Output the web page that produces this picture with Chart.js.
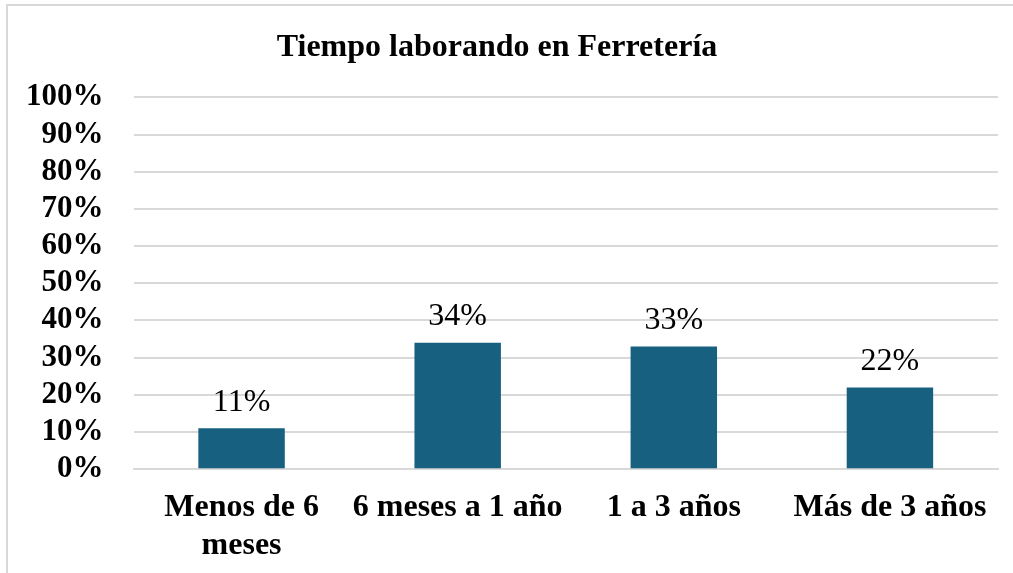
<!DOCTYPE html>
<html>
<head>
<meta charset="utf-8">
<script src="https://cdn.jsdelivr.net/npm/chart.js@4/dist/chart.umd.min.js"></script>
<style>
  body { margin: 0; background: #fff; }
  #wrap { position: relative; width: 1013px; height: 573px; }
  #frame { position: absolute; left: 6px; top: 4px; right: -10px; bottom: -10px; border: 2px solid #d9d9d9; }
  canvas { position: absolute; left: 0; top: 0; }
</style>
</head>
<body>
<div id="wrap">
  <div id="frame"></div>
  <canvas id="chart" width="1013" height="573"></canvas>
</div>
<script>
// datos del grafico
const categorias = [['Menos de 6', 'meses'], '6 meses a 1 año', '1 a 3 años', 'Más de 3 años'];
const porcentajes = [11, 34, 33, 22];
const tituloTexto = 'Tiempo laborando en Ferretería';

const fuente = "'Liberation Serif', 'Times New Roman', serif";

// etiquetas encima de cada barra
const etiquetasBarras = {
  id: 'etiquetasBarras',
  afterDatasetsDraw(chart) {
    const ctx = chart.ctx;
    const meta = chart.getDatasetMeta(0);
    ctx.save();
    ctx.font = '32px ' + fuente;
    ctx.fillStyle = '#000';
    ctx.textAlign = 'center';
    ctx.textBaseline = 'bottom';
    meta.data.forEach((bar, i) => {
      ctx.fillText(porcentajes[i] + '%', bar.x, bar.y - 10);
    });
    ctx.restore();
  }
};

const ctx = document.getElementById('chart').getContext('2d');
new Chart(ctx, {
  type: 'bar',
  data: {
    labels: categorias,
    datasets: [{
      data: porcentajes,
      backgroundColor: '#17607f',
      categoryPercentage: 0.4,
      barPercentage: 1.0
    }]
  },
  options: {
    responsive: false,
    animation: false,
    layout: { padding: { left: -4, right: 15, top: 0, bottom: -11 } },
    plugins: {
      legend: { display: false },
      tooltip: { enabled: false },
      title: {
        display: true,
        text: tituloTexto,
        color: '#000',
        font: { family: fuente, size: 32, weight: 'bold' },
        padding: { top: 29, bottom: 30 }
      }
    },
    scales: {
      y: {
        min: 0,
        max: 100,
        ticks: {
          stepSize: 10,
          autoSkip: false,
          color: '#000',
          padding: 30,
          font: { family: fuente, size: 31, weight: 'bold' },
          callback: v => v + '%'
        },
        grid: { color: '#d9d9d9', lineWidth: 2, drawTicks: false },
        border: { display: false }
      },
      x: {
        ticks: {
          color: '#000',
          padding: 19,
          maxRotation: 0,
          autoSkip: false,
          font: { family: fuente, size: 32, weight: 'bold' }
        },
        grid: { display: false, drawTicks: false },
        border: { color: '#d9d9d9', width: 2 }
      }
    }
  },
  plugins: [etiquetasBarras]
});
</script>
</body>
</html>
